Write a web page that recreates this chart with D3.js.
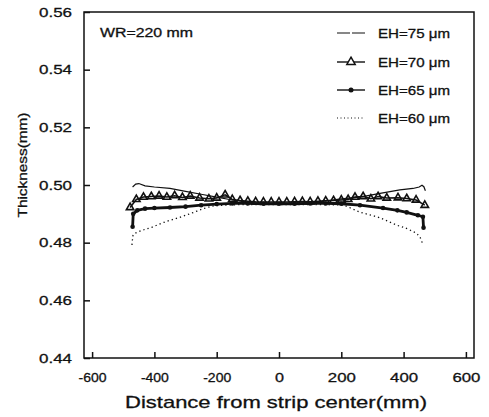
<!DOCTYPE html>
<html>
<head>
<meta charset="utf-8">
<script src="https://cdn.jsdelivr.net/npm/d3@7"></script>
<style>
  body { margin: 0; background: #fff; }
  text { font-family: "Liberation Sans", Arial, sans-serif; fill: #111; stroke: #111; stroke-width: 0.3px; }
</style>
</head>
<body>
<svg width="489" height="417"></svg>
<script>
// thickness profiles across the strip, [distance (mm), thickness (mm)]
var eh75 = [
  [-470, 0.4993], [-460, 0.5003], [-450, 0.5005], [-430, 0.4997], [-400, 0.4993],
  [-350, 0.4988], [-300, 0.4978], [-250, 0.4968], [-200, 0.4958], [-150, 0.4948],
  [-100, 0.4940], [-50, 0.4935], [0, 0.4933], [50, 0.4935], [100, 0.4938],
  [150, 0.4945], [200, 0.4952], [260, 0.4958], [320, 0.4970], [388, 0.4983],
  [430, 0.4988], [450, 0.4993], [459, 0.4999], [465, 0.4994], [470, 0.4980]
];

var eh70 = [
  [-478, 0.4922], [-458, 0.4950], [-435, 0.4958], [-410, 0.4960], [-385, 0.4962],
  [-360, 0.4958], [-335, 0.4963], [-310, 0.4957], [-285, 0.4962], [-255, 0.4955],
  [-225, 0.4952], [-200, 0.4955], [-173, 0.4966], [-150, 0.4950], [-125, 0.4946],
  [-100, 0.4944], [-75, 0.4942], [-50, 0.4941], [-25, 0.4941], [0, 0.4941],
  [25, 0.4941], [50, 0.4942], [75, 0.4943], [100, 0.4942], [125, 0.4944],
  [150, 0.4945], [175, 0.4946], [200, 0.4948], [222, 0.4950], [244, 0.4958],
  [270, 0.4960], [295, 0.4952], [318, 0.4960], [346, 0.4955], [382, 0.4956],
  [410, 0.4953], [440, 0.4948], [468, 0.4930]
];

var eh65 = [
  [-470, 0.4855], [-468, 0.4900], [-455, 0.4912], [-430, 0.4918], [-400, 0.4920],
  [-350, 0.4922], [-300, 0.4925], [-250, 0.4930], [-200, 0.4934], [-150, 0.4936],
  [-100, 0.4936], [-50, 0.4935], [0, 0.4935], [50, 0.4935], [100, 0.4936],
  [150, 0.4936], [200, 0.4935], [260, 0.4930], [334, 0.4920], [380, 0.4912],
  [410, 0.4905], [446, 0.4895], [462, 0.4890], [464, 0.4852]
];

var eh60 = [
  [-472, 0.4792], [-468, 0.4827], [-452, 0.4837], [-407, 0.4854], [-366, 0.4872],
  [-324, 0.4886], [-279, 0.4903], [-237, 0.4920], [-212, 0.4927], [-150, 0.4931],
  [-100, 0.4932], [0, 0.4932], [100, 0.4932], [196, 0.4931], [260, 0.4906],
  [324, 0.4886], [378, 0.4861], [420, 0.4844], [452, 0.4820], [462, 0.4792]
];

var legendLabels = ["EH=75 \u03bcm", "EH=70 \u03bcm", "EH=65 \u03bcm", "EH=60 \u03bcm"];
var xTicks = [-600, -400, -200, 0, 200, 400, 600];
var yTicks = [0.44, 0.46, 0.48, 0.50, 0.52, 0.54, 0.56];

var svg = d3.select("svg");

var x = d3.scaleLinear().domain([-626, 626]).range([84, 474]);
var y = d3.scaleLinear().domain([0.44, 0.56]).range([358, 12]);

// frame
svg.append("rect")
  .attr("x", 84).attr("y", 12)
  .attr("width", 390).attr("height", 346)
  .attr("fill", "none").attr("stroke", "#111").attr("stroke-width", 1.5);

// axes, ticks pointing inward
var xAxis = svg.append("g")
  .attr("transform", "translate(0,358)")
  .call(d3.axisBottom(x).tickValues(xTicks).tickSize(-6).tickSizeOuter(0)
    .tickPadding(14).tickFormat(function(d) { return String(d); }));
xAxis.select(".domain").remove();
xAxis.selectAll("line").attr("stroke", "#111").attr("stroke-width", 1.5);
xAxis.selectAll("text")
  .style("font-size", "13.5px")
  .attr("textLength", function(d) { return d < 0 ? 28 : (d == 0 ? 9 : 28); })
  .attr("lengthAdjust", "spacingAndGlyphs");

var yAxis = svg.append("g")
  .attr("transform", "translate(84,0)")
  .call(d3.axisLeft(y).tickValues(yTicks).tickSize(-6).tickSizeOuter(0)
    .tickPadding(12).tickFormat(d3.format(".2f")));
yAxis.select(".domain").remove();
yAxis.selectAll("line").attr("stroke", "#111").attr("stroke-width", 1.5);
yAxis.selectAll("text")
  .style("font-size", "13.5px")
  .attr("textLength", 33)
  .attr("lengthAdjust", "spacingAndGlyphs");

// axis titles
svg.append("text")
  .attr("x", 276).attr("y", 408)
  .attr("text-anchor", "middle")
  .style("font-size", "17px")
  .attr("textLength", 302).attr("lengthAdjust", "spacingAndGlyphs")
  .text("Distance from strip center(mm)");

svg.append("text")
  .attr("transform", "translate(27,165) rotate(-90)")
  .attr("text-anchor", "middle")
  .style("font-size", "13px")
  .attr("textLength", 105).attr("lengthAdjust", "spacingAndGlyphs")
  .text("Thickness(mm)");

svg.append("text")
  .attr("x", 100).attr("y", 37)
  .style("font-size", "12.5px")
  .attr("textLength", 93).attr("lengthAdjust", "spacingAndGlyphs")
  .text("WR=220 mm");

// series
var line = d3.line()
  .x(function(d) { return x(d[0]); })
  .y(function(d) { return y(d[1]); });

var plot = svg.append("g");

plot.append("path").datum(eh60)
  .attr("d", line.curve(d3.curveMonotoneX))
  .attr("fill", "none").attr("stroke", "#111")
  .attr("stroke-width", 1.3).attr("stroke-dasharray", "1.3,3");

line.curve(d3.curveLinear);

plot.append("path").datum(eh65)
  .attr("d", line)
  .attr("fill", "none").attr("stroke", "#111").attr("stroke-width", 2.8);
plot.selectAll(".dot65").data(eh65).enter().append("circle")
  .attr("cx", function(d) { return x(d[0]); })
  .attr("cy", function(d) { return y(d[1]); })
  .attr("r", 2.3).attr("fill", "#111");

plot.append("path").datum(eh70)
  .attr("d", line)
  .attr("fill", "none").attr("stroke", "#111").attr("stroke-width", 1.5);
plot.selectAll(".tri70").data(eh70).enter().append("path")
  .attr("transform", function(d) { return "translate(" + x(d[0]) + "," + y(d[1]) + ")"; })
  .attr("d", d3.symbol(d3.symbolTriangle, 24))
  .attr("fill", "none").attr("stroke", "#111").attr("stroke-width", 1.6);

plot.append("path").datum(eh75)
  .attr("d", line)
  .attr("fill", "none").attr("stroke", "#111").attr("stroke-width", 1.2);

// legend
var rowY = [33, 62, 90, 118];
var leg = svg.append("g");
leg.append("line").attr("x1", 337).attr("x2", 365).attr("y1", rowY[0]).attr("y2", rowY[0])
  .attr("stroke", "#111").attr("stroke-width", 1.2).attr("stroke-dasharray", "13,2");
leg.append("line").attr("x1", 337).attr("x2", 365).attr("y1", rowY[1]).attr("y2", rowY[1])
  .attr("stroke", "#111").attr("stroke-width", 1.4);
leg.append("path").attr("transform", "translate(351," + rowY[1] + ")")
  .attr("d", d3.symbol(d3.symbolTriangle, 30))
  .attr("fill", "#fff").attr("stroke", "#111").attr("stroke-width", 1.5);
leg.append("line").attr("x1", 337).attr("x2", 365).attr("y1", rowY[2]).attr("y2", rowY[2])
  .attr("stroke", "#111").attr("stroke-width", 1.4);
leg.append("circle").attr("cx", 351).attr("cy", rowY[2]).attr("r", 2.5).attr("fill", "#111");
leg.append("line").attr("x1", 337).attr("x2", 365).attr("y1", rowY[3]).attr("y2", rowY[3])
  .attr("stroke", "#111").attr("stroke-width", 1).attr("stroke-dasharray", "1,2.5");

leg.selectAll(".lab").data(legendLabels).enter().append("text")
  .attr("x", 378)
  .attr("y", function(d, i) { return rowY[i] + 4.5; })
  .style("font-size", "12.5px")
  .attr("textLength", 72).attr("lengthAdjust", "spacingAndGlyphs")
  .text(function(d) { return d; });
</script>
</body>
</html>
